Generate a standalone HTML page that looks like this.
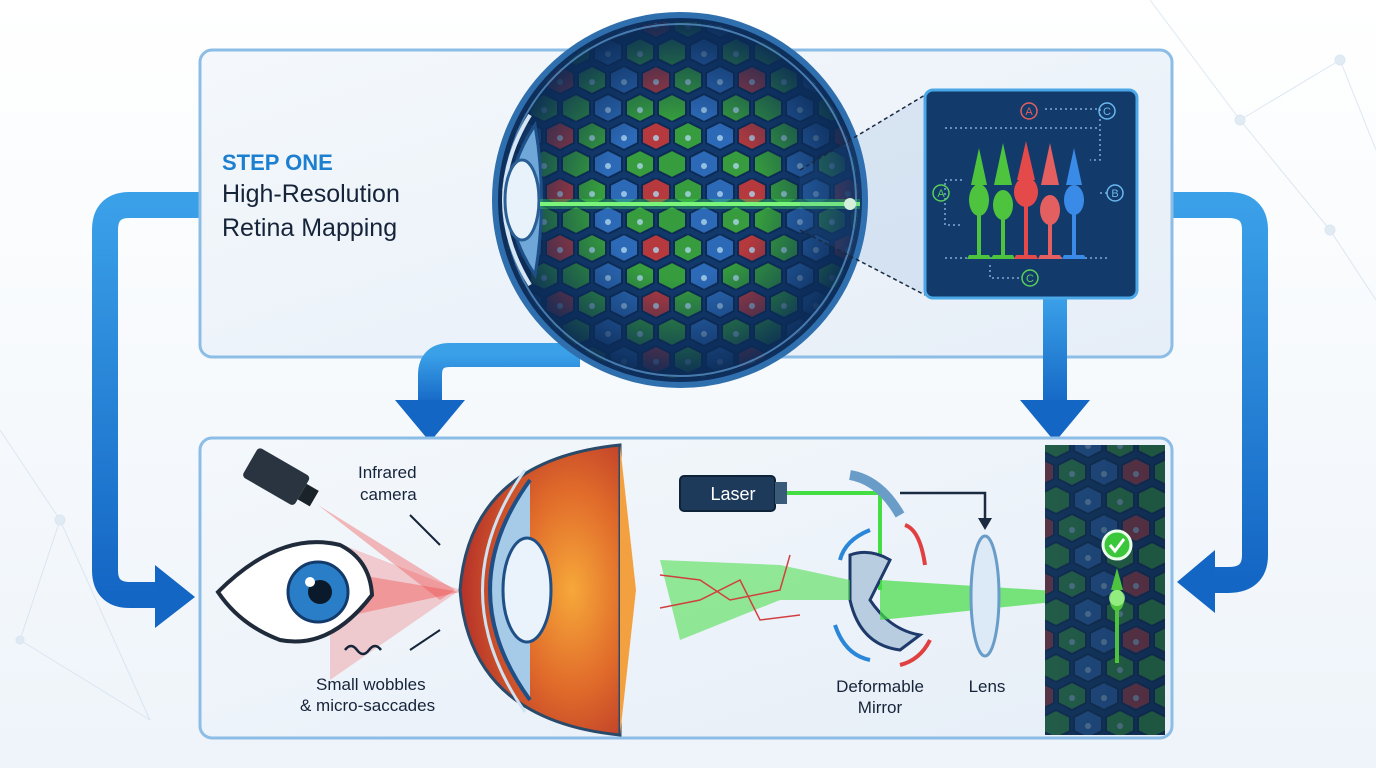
<!DOCTYPE html>
<html><head><meta charset="utf-8"><style>
html,body{margin:0;padding:0;background:#fff;}
svg{display:block;font-family:"Liberation Sans",sans-serif;}
</style></head><body>
<svg width="1376" height="768" viewBox="0 0 1376 768" xmlns="http://www.w3.org/2000/svg">
<defs>
<linearGradient id="bg" x1="0" y1="0" x2="0" y2="1"><stop offset="0" stop-color="#ffffff"/><stop offset="1" stop-color="#eef4fa"/></linearGradient>
<linearGradient id="panel" x1="0" y1="0" x2="1" y2="1"><stop offset="0" stop-color="#f4f8fc"/><stop offset="1" stop-color="#e6eef7"/></linearGradient>
<linearGradient id="arrow" x1="0" y1="0" x2="0" y2="1"><stop offset="0" stop-color="#3aa0e8"/><stop offset="1" stop-color="#1466c4"/></linearGradient>
<radialGradient id="eyeShade" cx="0.5" cy="0.5" r="0.5"><stop offset="0.45" stop-color="#0b2a55" stop-opacity="0"/><stop offset="0.8" stop-color="#0b2a55" stop-opacity="0.6"/><stop offset="1" stop-color="#0b2a55" stop-opacity="0.95"/></radialGradient>
<radialGradient id="eyeRed" cx="0.7" cy="0.5" r="0.7"><stop offset="0" stop-color="#f6a83a"/><stop offset="0.5" stop-color="#e06a2a"/><stop offset="1" stop-color="#b3302a"/></radialGradient>
<linearGradient id="strip" x1="0" y1="0" x2="1" y2="0"><stop offset="0" stop-color="#1d3f66"/><stop offset="1" stop-color="#122a4a"/></linearGradient>
<pattern id="hex" width="96" height="56" patternUnits="userSpaceOnUse" x="0" y="10">
<rect width="96" height="56" fill="#123a6e"/>
<g stroke="#0c2a52" stroke-width="2">
<polygon points="16,0 30,7 30,21 16,28 2,21 2,7" fill="#3aa83a"/>
<polygon points="48,0 62,7 62,21 48,28 34,21 34,7" fill="#2f6fc0"/>
<polygon points="80,0 94,7 94,21 80,28 66,21 66,7" fill="#c83a3a"/>
<polygon points="32,28 46,35 46,49 32,56 18,49 18,35" fill="#2f6fc0"/>
<polygon points="64,28 78,35 78,49 64,56 50,49 50,35" fill="#3aa83a"/>
<polygon points="0,28 14,35 14,49 0,56 -14,49 -14,35" fill="#3aa83a"/>
<polygon points="96,28 110,35 110,49 96,56 82,49 82,35" fill="#3aa83a"/>
</g>
<g fill="#bfe8ff" opacity="0.8"><circle cx="16" cy="16" r="3"/><circle cx="48" cy="16" r="3"/><circle cx="80" cy="16" r="3"/><circle cx="32" cy="44" r="3"/><circle cx="64" cy="44" r="3"/></g>
</pattern>
<clipPath id="eyeClip"><circle cx="680" cy="200" r="178"/></clipPath>
<clipPath id="stripClip"><rect x="1045" y="445" width="120" height="290"/></clipPath>
</defs>
<rect width="1376" height="768" fill="url(#bg)"/>
<g stroke="#d5e2ef" stroke-width="1" fill="#dbe7f2" opacity="0.8">
<line x1="1150" y1="0" x2="1240" y2="120"/><line x1="1240" y1="120" x2="1340" y2="60"/><line x1="1340" y1="60" x2="1376" y2="150"/><line x1="1240" y1="120" x2="1330" y2="230"/><line x1="1330" y1="230" x2="1376" y2="300"/>
<line x1="0" y1="430" x2="60" y2="520"/><line x1="60" y1="520" x2="20" y2="640"/><line x1="60" y1="520" x2="150" y2="720"/><line x1="20" y1="640" x2="150" y2="720"/>
<circle cx="1240" cy="120" r="5"/><circle cx="1340" cy="60" r="5"/><circle cx="1330" cy="230" r="5"/><circle cx="60" cy="520" r="5"/><circle cx="20" cy="640" r="4"/>
</g>
<path d="M200 205 H130 Q105 205 105 230 V570 Q105 595 130 595 H160" fill="none" stroke="url(#arrow)" stroke-width="26"/>
<polygon points="155,565 195,597 155,628" fill="#1466c4"/>
<path d="M1172 205 H1228 Q1255 205 1255 230 V555 Q1255 580 1228 580 H1210" fill="none" stroke="url(#arrow)" stroke-width="26"/>
<polygon points="1215,550 1177,582 1215,613" fill="#1466c4"/>
<rect x="200" y="50" width="972" height="307" rx="12" fill="url(#panel)" stroke="#8cbde6" stroke-width="3"/>
<text x="222" y="170" font-size="22" font-weight="bold" fill="#1c7fd0">STEP ONE</text>
<text x="222" y="202" font-size="25" fill="#16243a">High-Resolution</text>
<text x="222" y="236" font-size="25" fill="#16243a">Retina Mapping</text>
<path d="M580 355 H450 Q430 355 430 375 V405" fill="none" stroke="url(#arrow)" stroke-width="24"/>
<polygon points="395,400 465,400 430,442" fill="#1466c4"/>
<rect x="1043" y="298" width="24" height="110" fill="url(#arrow)"/>
<polygon points="1020,400 1090,400 1055,442" fill="#1466c4"/>
<circle cx="680" cy="200" r="185" fill="#0e2f5c" stroke="#2f6fae" stroke-width="6"/>
<g clip-path="url(#eyeClip)"><rect x="495" y="15" width="370" height="370" fill="url(#hex)" opacity="0.9"/><circle cx="680" cy="200" r="178" fill="url(#eyeShade)"/></g>
<circle cx="680" cy="200" r="176" fill="none" stroke="#6fb0e8" stroke-width="2" opacity="0.6"/>
<path d="M535 125 Q485 200 535 275 Q548 200 535 125 Z" fill="#6fa8d8" stroke="#1e4f86" stroke-width="3"/>
<path d="M530 115 Q478 200 530 285" fill="none" stroke="#d6e6f4" stroke-width="4"/>
<ellipse cx="522" cy="200" rx="17" ry="40" fill="#e8f2fb" stroke="#2a5f96" stroke-width="3"/>
<line x1="540" y1="204" x2="860" y2="204" stroke="#9dff8a" stroke-width="4"/>
<line x1="540" y1="204" x2="860" y2="204" stroke="#3ce05a" stroke-width="10" opacity="0.35"/>
<circle cx="850" cy="204" r="6" fill="#eaffe0"/>
<polygon points="800,170 925,95 925,295 800,230" fill="#3a7bc8" opacity="0.12"/>
<line x1="800" y1="170" x2="925" y2="95" stroke="#1a2a40" stroke-width="1.5" stroke-dasharray="4,3"/>
<line x1="800" y1="230" x2="925" y2="295" stroke="#1a2a40" stroke-width="1.5" stroke-dasharray="4,3"/>
<rect x="925" y="90" width="212" height="208" rx="8" fill="#123a6a" stroke="#4aa8e8" stroke-width="3"/>
<g stroke="#9fc8ef" stroke-width="1.5" stroke-dasharray="2,3" fill="none" opacity="0.8">
<line x1="945" y1="128" x2="1100" y2="128"/><line x1="945" y1="258" x2="1110" y2="258"/>
<polyline points="1045,109 1100,109 1100,160 1090,160"/><polyline points="962,180 945,180 945,225 962,225"/><polyline points="990,265 990,278 1020,278"/><line x1="1100" y1="193" x2="1110" y2="193"/>
</g>
<g font-size="11" text-anchor="middle">
<circle cx="1029" cy="111" r="8" fill="none" stroke="#e06060" stroke-width="1.5"/><text x="1029" y="115" fill="#e06060">A</text>
<circle cx="1107" cy="111" r="8" fill="none" stroke="#6ab8f0" stroke-width="1.5"/><text x="1107" y="115" fill="#6ab8f0">C</text>
<circle cx="941" cy="193" r="8" fill="none" stroke="#5ad05a" stroke-width="1.5"/><text x="941" y="197" fill="#5ad05a">A</text>
<circle cx="1115" cy="193" r="8" fill="none" stroke="#6ab8f0" stroke-width="1.5"/><text x="1115" y="197" fill="#6ab8f0">B</text>
<circle cx="1030" cy="278" r="8" fill="none" stroke="#5ad05a" stroke-width="1.5"/><text x="1030" y="282" fill="#5ad05a">C</text>
</g>
<g>
<g fill="#4ec43e"><path d="M979 148 L987 185 L971 185 Z"/><ellipse cx="979" cy="200" rx="10" ry="16"/><rect x="977" y="210" width="4" height="45"/><path d="M969 255 L989 255 L991 259 L967 259 Z"/></g>
<g fill="#4ec43e" transform="translate(24,0)"><path d="M979 143 L988 185 L970 185 Z"/><ellipse cx="979" cy="205" rx="10" ry="15"/><rect x="977" y="215" width="4" height="40"/><path d="M969 255 L989 255 L991 259 L967 259 Z"/></g>
<g fill="#e44a4a" transform="translate(47,0)"><path d="M979 141 L988 180 L970 180 Z"/><ellipse cx="979" cy="192" rx="12" ry="15"/><rect x="977" y="205" width="4" height="50"/><path d="M969 255 L989 255 L991 259 L967 259 Z"/></g>
<g fill="#e46060" transform="translate(71,0)"><path d="M979 143 L988 185 L970 185 Z"/><ellipse cx="979" cy="210" rx="10" ry="15"/><rect x="977" y="220" width="4" height="35"/><path d="M969 255 L989 255 L991 259 L967 259 Z"/></g>
<g fill="#3a8ae8" transform="translate(95,0)"><path d="M979 148 L987 185 L971 185 Z"/><ellipse cx="979" cy="200" rx="10" ry="15"/><rect x="977" y="210" width="4" height="45"/><path d="M969 255 L989 255 L991 259 L967 259 Z"/></g>
</g>
<rect x="200" y="438" width="972" height="300" rx="12" fill="url(#panel)" stroke="#8cbde6" stroke-width="3"/>
<g transform="rotate(30 280 480)"><rect x="245" y="462" width="60" height="34" rx="4" fill="#2a3440"/><rect x="305" y="470" width="14" height="18" fill="#1a222a"/></g>
<polygon points="318,505 455,590 440,600" fill="#f04040" opacity="0.35"/>
<polygon points="330,540 460,590 330,680" fill="#f04a4a" opacity="0.25"/>
<polygon points="330,570 460,592 330,620" fill="#f04a4a" opacity="0.4"/>
<path d="M218 592 Q280 530 340 545 Q370 560 372 595 Q330 650 280 640 Q240 625 218 592 Z" fill="#fff" stroke="#1f2a3a" stroke-width="4"/>
<circle cx="318" cy="592" r="30" fill="#2a7ec8" stroke="#123a6a" stroke-width="3"/>
<circle cx="320" cy="592" r="12" fill="#0a1a2a"/>
<circle cx="310" cy="582" r="5" fill="#fff"/>
<text x="358" y="478" font-size="17" fill="#16243a">Infrared</text>
<text x="360" y="500" font-size="17" fill="#16243a">camera</text>
<text x="316" y="690" font-size="17" fill="#16243a">Small wobbles</text>
<text x="300" y="711" font-size="17" fill="#16243a">&amp; micro-saccades</text>
<path d="M345 650 q6 -8 12 0 t12 0 t12 0" fill="none" stroke="#16243a" stroke-width="2.5"/>
<line x1="410" y1="515" x2="440" y2="545" stroke="#16243a" stroke-width="2"/>
<line x1="410" y1="650" x2="440" y2="630" stroke="#16243a" stroke-width="2"/>
<path d="M620 445 L620 735 Q470 720 460 590 Q470 460 620 445 Z" fill="url(#eyeRed)" stroke="#2a4a6a" stroke-width="3"/>
<path d="M620 445 L620 735 L636 590 Z" fill="#f3a040"/>
<path d="M530 480 Q450 590 530 700" fill="#a5cbe8" stroke="#1e4f86" stroke-width="4"/>
<path d="M525 470 Q440 590 525 712" fill="none" stroke="#cfe2f2" stroke-width="3"/>
<ellipse cx="527" cy="590" rx="24" ry="52" fill="#eaf3fb" stroke="#1e4f86" stroke-width="3"/>
<rect x="680" y="476" width="95" height="35" rx="4" fill="#1e3a5a" stroke="#0e2238" stroke-width="2"/>
<rect x="775" y="482" width="12" height="22" fill="#3a5a7a"/>
<text x="733" y="500" font-size="18" fill="#fff" text-anchor="middle">Laser</text>
<line x1="787" y1="493" x2="880" y2="493" stroke="#44dd44" stroke-width="4"/>
<line x1="880" y1="493" x2="880" y2="590" stroke="#44dd44" stroke-width="4"/>
<path d="M850 475 Q880 480 900 515" fill="none" stroke="#6a9cc8" stroke-width="10"/>
<polyline points="900,493 985,493 985,520" fill="none" stroke="#1a2a40" stroke-width="2.5"/>
<polygon points="978,518 992,518 985,530" fill="#1a2a40"/>
<path d="M850 555 Q870 548 890 560 L870 600 Q890 630 920 635 L900 650 Q860 645 850 600 Z" fill="#b8cde0" stroke="#1e3a6a" stroke-width="3"/>
<polygon points="660,560 780,565 850,580 850,600 780,600 680,640" fill="#44dd44" opacity="0.55"/>
<polygon points="880,580 1120,595 880,620" fill="#44dd44" opacity="0.7"/>
<polyline points="660,575 700,580 730,600 780,590 790,555" fill="none" stroke="#d04040" stroke-width="1.5"/>
<polyline points="660,608 700,600 740,580 760,620 800,615" fill="none" stroke="#d04040" stroke-width="1.5"/>
<path d="M840 560 Q845 540 870 530" fill="none" stroke="#2a86d8" stroke-width="4"/>
<path d="M905 525 Q920 530 925 565" fill="none" stroke="#e04040" stroke-width="4"/>
<path d="M835 625 Q845 655 870 660" fill="none" stroke="#2a86d8" stroke-width="4"/>
<path d="M900 665 Q920 660 930 640" fill="none" stroke="#e04040" stroke-width="4"/>
<ellipse cx="985" cy="596" rx="14" ry="60" fill="#dbeaf6" stroke="#6a9cc8" stroke-width="3"/>
<text x="880" y="692" font-size="17" fill="#16243a" text-anchor="middle">Deformable</text>
<text x="880" y="713" font-size="17" fill="#16243a" text-anchor="middle">Mirror</text>
<text x="987" y="692" font-size="17" fill="#16243a" text-anchor="middle">Lens</text>
<rect x="1045" y="445" width="120" height="290" fill="url(#strip)"/>
<g clip-path="url(#stripClip)" opacity="0.55"><rect x="1045" y="445" width="120" height="290" fill="url(#hex)"/></g>
<rect x="1045" y="445" width="120" height="290" fill="#0e2440" opacity="0.35"/>
<circle cx="1117" cy="545" r="14" fill="#3ac83a" stroke="#eaffea" stroke-width="3"/>
<polyline points="1110,545 1115,551 1124,539" fill="none" stroke="#fff" stroke-width="3"/>
<g fill="#4ec43e"><path d="M1117 568 L1123 590 L1111 590 Z"/><ellipse cx="1117" cy="600" rx="7" ry="11"/><rect x="1115" y="608" width="4" height="55"/></g>
<circle cx="1117" cy="598" r="8" fill="#b0ff9a" opacity="0.7"/>
</svg>
</body></html>
